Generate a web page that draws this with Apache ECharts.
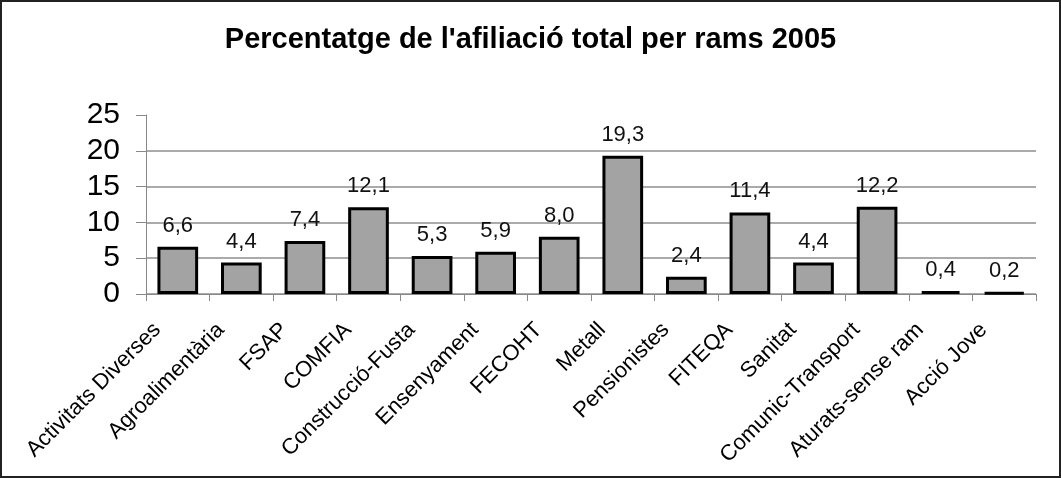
<!DOCTYPE html>
<html>
<head>
<meta charset="utf-8">
<script src="https://cdn.jsdelivr.net/npm/echarts@6/dist/echarts.min.js"></script>
<style>
  html, body { margin: 0; padding: 0; background: #fff; }
  #chart { width: 1061px; height: 478px; box-sizing: border-box; border: 2px solid #222; }
</style>
</head>
<body>
<div id="chart"></div>
<script>
const categories = ['Activitats Diverses', 'Agroalimentària', 'FSAP', 'COMFIA', 'Construcció-Fusta',
  'Ensenyament', 'FECOHT', 'Metall', 'Pensionistes', 'FITEQA', 'Sanitat', 'Comunic-Transport',
  'Aturats-sense ram', 'Acció Jove']
const values = [6.6, 4.4, 7.4, 12.1, 5.3, 5.9, 8.0, 19.3, 2.4, 11.4, 4.4, 12.2, 0.4, 0.2]
const yTicks = [0, 5, 10, 15, 20, 25]

const font = 'Liberation Sans, Arial, sans-serif'
const chart = echarts.init(document.getElementById('chart'))

chart.setOption({
  animation: false,
  title: {
    text: "Percentatge de l'afiliació total per rams 2005",
    left: 'center',
    top: 18,
    textStyle: { fontFamily: font, fontSize: 29, fontWeight: 'bold', color: '#000' }
  },
  grid: { left: 144, right: 23, top: 113, bottom: 182 },
  xAxis: {
    type: 'category',
    data: categories,
    axisLine: { lineStyle: { color: '#888', width: 1 } },
    axisTick: { show: true, length: 7, lineStyle: { color: '#888' } },
    axisLabel: {
      rotate: 45,
      interval: 0,
      margin: 12,
      padding: [0, 29, 0, 0],
      fontFamily: font,
      fontSize: 22,
      color: '#000'
    }
  },
  yAxis: {
    type: 'value',
    min: yTicks[0],
    max: yTicks[yTicks.length - 1],
    interval: 5,
    axisLine: { show: true, lineStyle: { color: '#888', width: 1 } },
    axisTick: { show: true, length: 10, lineStyle: { color: '#888' } },
    axisLabel: { margin: 26, fontFamily: font, fontSize: 30, color: '#000' },
    splitLine: {
      show: true,
      lineStyle: { color: ['#aaa', '#aaa', '#aaa', '#aaa', '#aaa', 'rgba(0,0,0,0)'], width: 2 }
    }
  },
  series: [{
    type: 'bar',
    data: values,
    barWidth: '64%',
    itemStyle: { color: '#a3a3a3', borderColor: '#000', borderWidth: 3 },
    label: {
      show: true,
      position: 'top',
      distance: 10,
      fontFamily: font,
      fontSize: 22,
      color: '#111',
      formatter: p => p.value.toFixed(1).replace('.', ',')
    }
  }]
})
</script>
</body>
</html>
